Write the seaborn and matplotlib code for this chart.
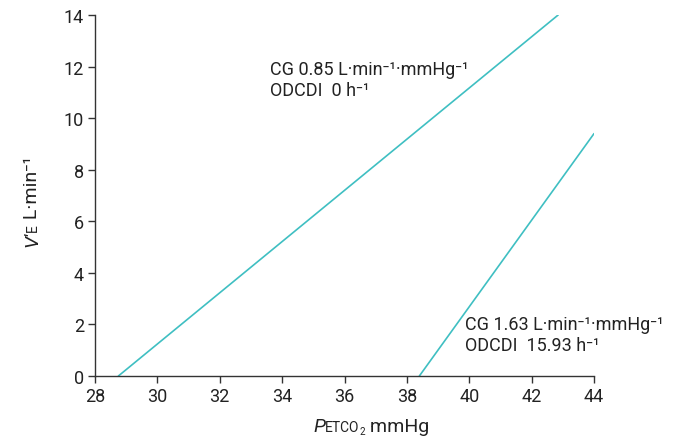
import matplotlib
matplotlib.use("Agg")
import matplotlib.pyplot as plt
import seaborn as sns
import pandas as pd

# Data
line1_x = [28.75, 42.85]
line1_y = [0.0, 14.0]
line2_x = [38.4, 44.0]
line2_y = [0.0, 9.4]
x_ticks = [28, 30, 32, 34, 36, 38, 40, 42, 44]
y_ticks = [0, 2, 4, 6, 8, 10, 12, 14]
ann1_lines = ["CG 0.85 L·min⁻¹·mmHg⁻¹", "ODCDI  0 h⁻¹"]
ann2_lines = ["CG 1.63 L·min⁻¹·mmHg⁻¹", "ODCDI  15.93 h⁻¹"]

sns.set_theme(style="ticks")
plt.rcParams['font.family'] = ['Roboto', 'DejaVu Sans']

W, H = 678, 439
TXT = "#222222"
df = pd.concat([
    pd.DataFrame({"x": line1_x, "y": line1_y, "g": "a"}),
    pd.DataFrame({"x": line2_x, "y": line2_y, "g": "b"}),
])

fig = plt.figure(figsize=(W / 100, H / 100), dpi=100)
ax = fig.add_axes([95 / W, 1 - 377 / H, (594 - 95) / W, (377 - 16) / H])
color = "#3fbfc2"
sns.lineplot(data=df, x="x", y="y", units="g", estimator=None, color=color,
             linewidth=1.2, ax=ax, legend=False)

ax.set_xlim(28, 44)
ax.set_ylim(0, 14)
ax.set_xticks(x_ticks)
ax.set_yticks(y_ticks)
sns.despine(ax=ax)
dark = "#333333"
for s in ["left", "bottom"]:
    ax.spines[s].set_color(dark)
    ax.spines[s].set_linewidth(1.0)
ax.tick_params(axis="both", colors=dark, labelcolor=TXT, labelsize=13,
               length=5, width=1.0, direction="out", pad=3)
ax.set_xlabel("")
ax.set_ylabel("")

# annotations (baseline positioned)
def ann(x, ys, lines):
    for yy, s in zip(ys, lines):
        ax.text(x, yy, s, fontsize=13, color=TXT, va="baseline", ha="left")

ann(33.61, [11.71, 10.89], ann1_lines)
ann(39.86, [1.82, 1.01], ann2_lines)

renderer = fig.canvas.get_renderer()

def rich(pieces, x0, y0, vertical=False):
    pos = x0 if not vertical else y0
    for s, size, style, dy in pieces:
        if vertical:
            t = fig.text((x0 + dy) / W, 1 - pos / H, s, fontsize=size, style=style,
                         color=TXT, rotation=90, rotation_mode="anchor",
                         ha="left", va="baseline")
            bb = t.get_window_extent(renderer)
            pos -= bb.height
        else:
            t = fig.text(pos / W, 1 - (y0 + dy) / H, s, fontsize=size, style=style,
                         color=TXT, ha="left", va="baseline")
            bb = t.get_window_extent(renderer)
            pos += bb.width

# x label: P(ETCO2) mmHg
rich([("P", 14, "italic", 0), ("ETCO", 10, "normal", 0), ("2", 7, "normal", 3),
      (" mmHg", 14, "normal", 0)], 313, 432)
# y label: V'E L·min-1
rich([("V'", 14, "italic", 0), ("E", 10, "normal", 0), (" L·min⁻¹", 14, "normal", 0)],
     37, 247, vertical=True)

fig.savefig("out.png", dpi=100)
